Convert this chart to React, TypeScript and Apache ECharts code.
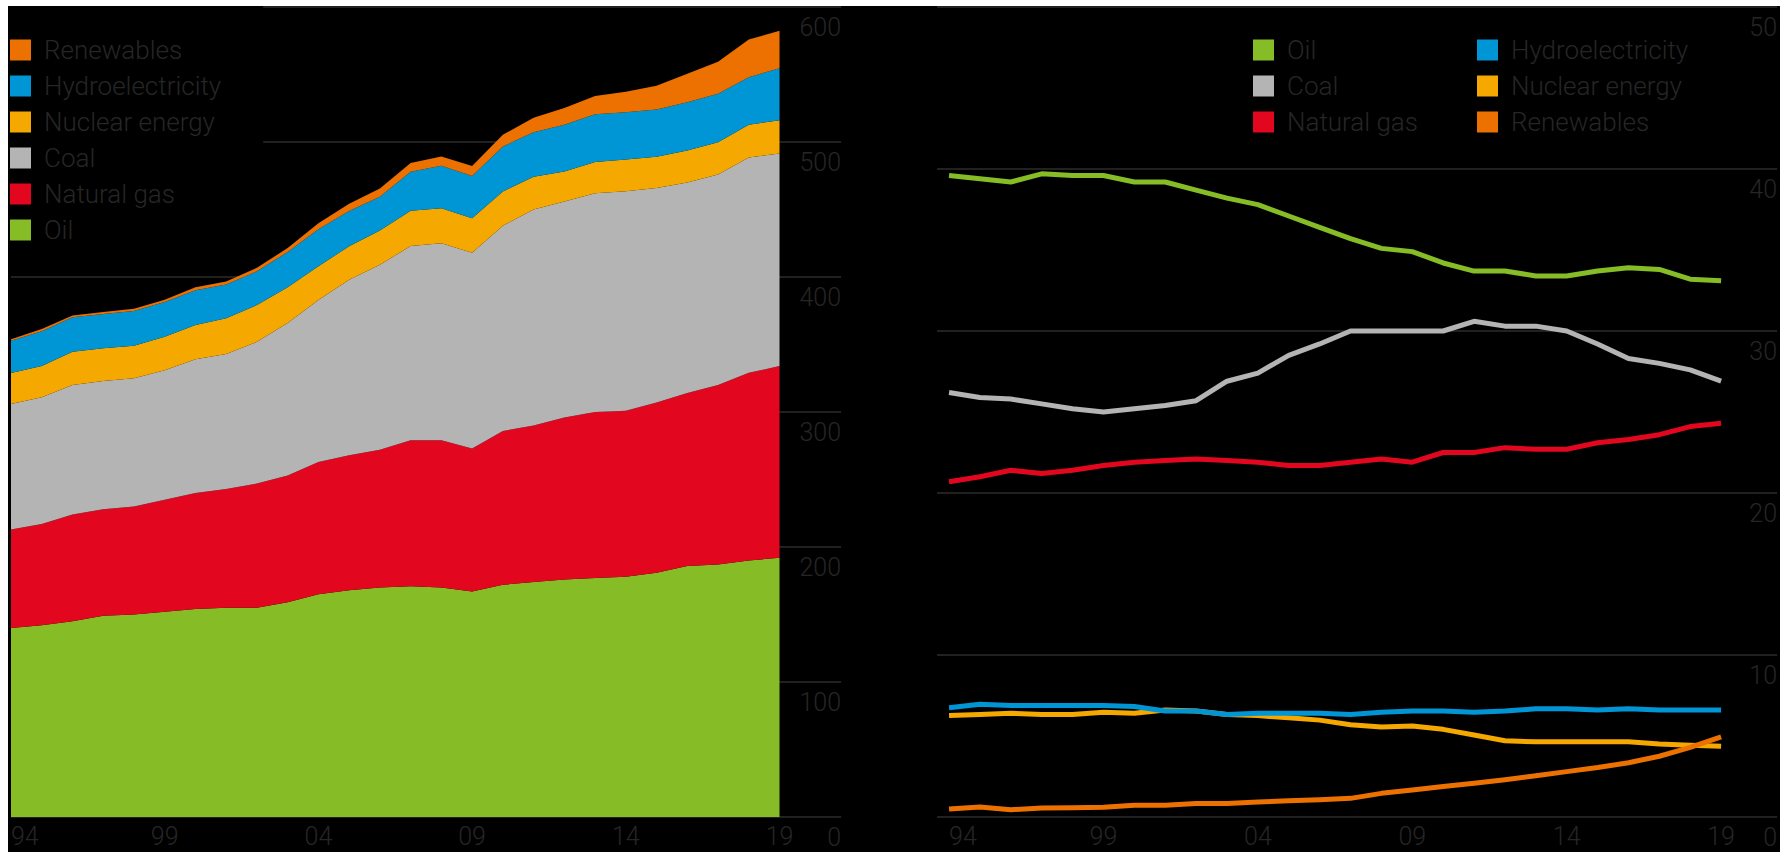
import React, { useEffect, useRef } from "react";
import * as echarts from "echarts";

// Years 1994..2019
const years = [1994, 1995, 1996, 1997, 1998, 1999, 2000, 2001, 2002, 2003, 2004, 2005, 2006, 2007, 2008, 2009, 2010, 2011, 2012, 2013, 2014, 2015, 2016, 2017, 2018, 2019];
const xTickYears = [1994, 1999, 2004, 2009, 2014, 2019];
// two empty slots to the right of the last year (room for the value labels)
const padCategories = ["2020", "2021"];

// Left chart: consumption by fuel (stacked)
const oil = [140, 142, 145, 149, 150, 152, 154, 155, 155, 159, 165, 168, 170, 171, 170, 167, 172, 174, 176, 177, 178, 181, 186, 187, 190, 192];
const gas = [73, 75, 79, 79, 80, 83, 86, 88, 92, 94, 98, 100, 102, 108, 109, 106, 114, 116, 120, 123, 123, 126, 128, 133, 139, 142];
const coal = [93, 94, 96, 95, 95, 96, 99, 100, 105, 113, 120, 130, 137, 144, 146, 145, 152, 160, 160, 162, 162.5, 159, 156, 156, 159.5, 157.5];
const nuclear = [22.8, 23, 24.7, 24.2, 24.1, 24.7, 25.4, 26.4, 27.2, 26.5, 25, 24.8, 25.5, 26, 26, 25.5, 25.4, 24.3, 22.2, 23.2, 23.5, 23, 23.7, 23.9, 24.2, 24.7];
const hydro = [23.9, 25.9, 25.4, 25.4, 25.7, 25.7, 25.8, 25, 25, 26, 27.3, 26, 25, 29, 31.5, 31.3, 33.3, 33, 34.6, 35.3, 35, 35, 35.7, 35.9, 35.3, 38.4];
const renewables = [1.2, 1.5, 1.3, 1.5, 1.6, 1.8, 2.2, 2.3, 2.6, 3, 4.5, 5.5, 6, 6.5, 6.7, 7.4, 8.7, 10.6, 12.3, 13.5, 15.2, 17.7, 21.1, 23.6, 27.9, 27.8];

// Right chart: shares (%)
const oilShare = [39.6, 39.4, 39.2, 39.7, 39.6, 39.6, 39.2, 39.2, 38.7, 38.2, 37.8, 37.1, 36.4, 35.7, 35.1, 34.9, 34.2, 33.7, 33.7, 33.4, 33.4, 33.7, 33.9, 33.8, 33.2, 33.1];
const coalShare = [26.2, 25.9, 25.8, 25.5, 25.2, 25.0, 25.2, 25.4, 25.7, 26.9, 27.4, 28.5, 29.2, 30.0, 30.0, 30.0, 30.0, 30.6, 30.3, 30.3, 30.0, 29.2, 28.3, 28.0, 27.6, 26.9];
const gasShare = [20.7, 21.0, 21.4, 21.2, 21.4, 21.7, 21.9, 22.0, 22.1, 22.0, 21.9, 21.7, 21.7, 21.9, 22.1, 21.9, 22.5, 22.5, 22.8, 22.7, 22.7, 23.1, 23.3, 23.6, 24.1, 24.3];
const hydroShare = [6.75, 6.96, 6.89, 6.89, 6.89, 6.89, 6.82, 6.54, 6.54, 6.33, 6.4, 6.4, 6.4, 6.33, 6.47, 6.54, 6.54, 6.47, 6.54, 6.68, 6.68, 6.61, 6.68, 6.61, 6.61, 6.61];
const nuclearShare = [6.26, 6.33, 6.4, 6.33, 6.33, 6.47, 6.4, 6.61, 6.54, 6.33, 6.26, 6.12, 5.98, 5.69, 5.55, 5.62, 5.41, 5.06, 4.71, 4.64, 4.64, 4.64, 4.64, 4.5, 4.43, 4.36];
const renewShare = [0.49, 0.62, 0.45, 0.55, 0.57, 0.6, 0.72, 0.72, 0.84, 0.84, 0.92, 1.0, 1.07, 1.15, 1.46, 1.67, 1.88, 2.08, 2.3, 2.55, 2.8, 3.05, 3.35, 3.75, 4.3, 4.95];

const NAMES = ["Oil", "Natural gas", "Coal", "Nuclear energy", "Hydroelectricity", "Renewables"];
const COLORS: Record<string, string> = {
  Oil: "#86bc25",
  "Natural gas": "#e2071f",
  Coal: "#b5b4b5",
  "Nuclear energy": "#f5a800",
  Hydroelectricity: "#0096d6",
  Renewables: "#ec7100",
};

const TEXT = "#262626";
const GRID = "#2c2c2c";
const FONT = "Roboto";

const pairs = (arr: number[]) => years.map((y, i) => [y, arr[i]]);

export default function App() {
  const ref = useRef<HTMLDivElement>(null);
  useEffect(() => {
    if (!ref.current) return;
    const chart = echarts.init(ref.current, null, { renderer: "svg" });
    const leftData = [oil, gas, coal, nuclear, hydro, renewables];
    const rightData = [oilShare, gasShare, coalShare, nuclearShare, hydroShare, renewShare];

    const labelFont = {
      color: TEXT,
      fontSize: 25,
      fontFamily: FONT,
      fontWeight: 300,
    };
    const yLabel = {
      ...labelFont,
      inside: true,
      margin: 0,
      align: "right",
      verticalAlign: "top",
      padding: [8, 0, 0, 0],
    };
    const legendText = {
      color: TEXT,
      fontSize: 26,
      fontFamily: FONT,
      fontWeight: 300,
      lineHeight: 30,
      padding: [0, 0, 0, 8],
    };
    const legendCommon = {
      orient: "vertical",
      icon: "rect",
      itemWidth: 21,
      itemHeight: 21,
      itemGap: 6,
      selectedMode: false,
      textStyle: legendText,
    };

    const option: any = {
      animation: false,
      backgroundColor: "#000",
      grid: [
        { left: 3, right: 939, top: 1, bottom: 35 },
        { left: 929, right: 1, top: 1, bottom: 35 },
      ],
      legend: [
        {
          ...legendCommon,
          data: ["Renewables", "Hydroelectricity", "Nuclear energy", "Coal", "Natural gas", "Oil"],
          left: 0,
          top: 0,
          padding: [29, 42, 18, 2],
          backgroundColor: "#000",
        },
        { ...legendCommon, data: ["Oil", "Coal", "Natural gas"], left: 1240, top: 24 },
        { ...legendCommon, data: ["Hydroelectricity", "Nuclear energy", "Renewables"], left: 1464, top: 24 },
      ],
      xAxis: [
        {
          type: "category",
          gridIndex: 0,
          boundaryGap: false,
          data: [...years.map(String), ...padCategories],
          axisLine: { show: false },
          axisTick: { show: false },
          splitLine: { show: false },
          axisLabel: {
            ...labelFont,
            interval: (idx: number, val: string) => xTickYears.includes(Number(val)),
            formatter: (v: string) => v.slice(2),
            margin: 7,
            alignMinLabel: "left",
          },
        },
        {
          type: "value",
          gridIndex: 1,
          min: 1993.61,
          max: 2020.81,
          axisLine: { show: false },
          axisTick: { show: false },
          splitLine: { show: false },
          axisLabel: {
            ...labelFont,
            customValues: xTickYears,
            formatter: (v: number) => String(v).slice(2),
            margin: 7,
            alignMinLabel: "left",
            hideOverlap: false,
          },
        },
      ],
      yAxis: [
        {
          type: "value",
          gridIndex: 0,
          position: "right",
          min: 0,
          max: 600,
          interval: 100,
          axisLine: { show: false },
          axisTick: { show: false },
          splitLine: { show: true, lineStyle: { color: GRID, width: 1.5 } },
          axisLabel: yLabel,
        },
        {
          type: "value",
          gridIndex: 1,
          position: "right",
          min: 0,
          max: 50,
          interval: 10,
          axisLine: { show: false },
          axisTick: { show: false },
          splitLine: { show: true, lineStyle: { color: GRID, width: 1.5 } },
          axisLabel: yLabel,
        },
      ],
      series: [
        ...NAMES.map((name, k) => ({
          type: "line",
          name,
          xAxisIndex: 0,
          yAxisIndex: 0,
          stack: "total",
          data: leftData[k],
          symbol: "none",
          lineStyle: { width: 0, color: COLORS[name] },
          itemStyle: { color: COLORS[name] },
          areaStyle: { color: COLORS[name], opacity: 1 },
          z: 2,
        })),
        ...NAMES.map((name, k) => ({
          type: "line",
          name,
          xAxisIndex: 1,
          yAxisIndex: 1,
          data: pairs(rightData[k]),
          symbol: "none",
          lineStyle: { width: 5, color: COLORS[name], join: "round" },
          itemStyle: { color: COLORS[name] },
          z: 3,
        })),
      ],
    };
    chart.setOption(option);
    return () => chart.dispose();
  }, []);

  return (
    <div
      ref={ref}
      style={{ position: "absolute", left: 8, top: 6, width: 1772, height: 846, background: "#000" }}
    />
  );
}
